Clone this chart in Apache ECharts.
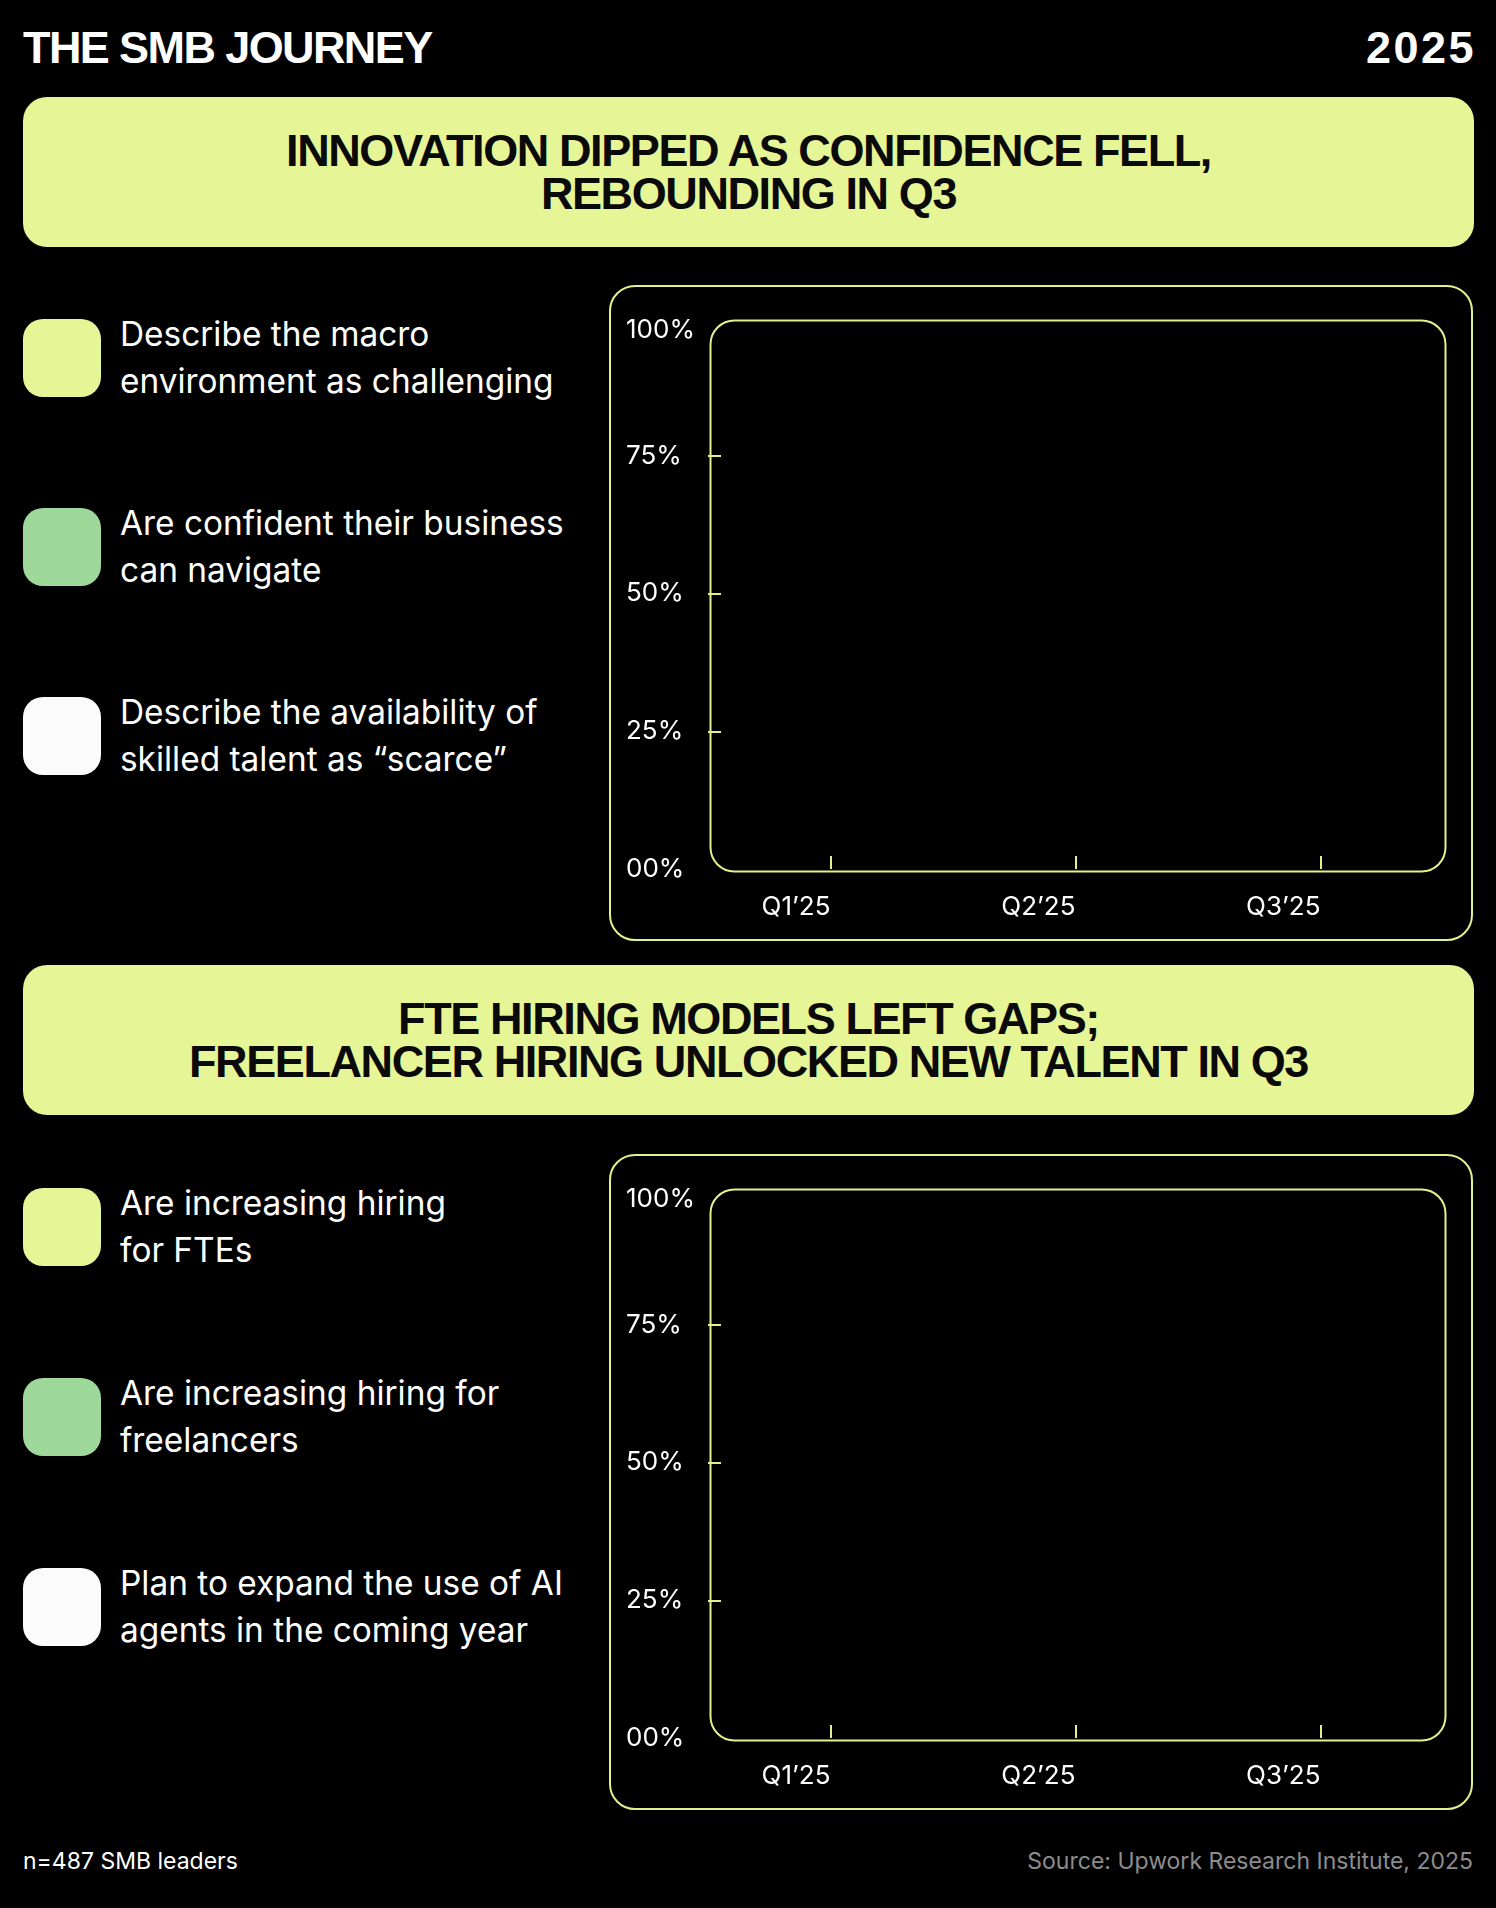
<!DOCTYPE html>
<html>
<head>
<meta charset="utf-8">
<title>The SMB Journey 2025</title>
<script src="https://cdn.jsdelivr.net/npm/echarts@6/dist/echarts.min.js"></script>
<style>
  html, body { margin: 0; padding: 0; background: #000; }
  body { width: 1496px; height: 1908px; position: relative; overflow: hidden; color: #fff; font-family: Inter, "Liberation Sans", sans-serif; }
  .abs { position: absolute; }
  .title { top: 25px; height: 45px; line-height: 45px; font-family: "Liberation Sans", Arial, sans-serif; font-weight: 700; font-size: 45px; letter-spacing: -1.6px; }
  .banner { left: 23px; width: 1451px; height: 150px; background: #e6f596; border-radius: 24px;
            display: flex; align-items: center; justify-content: center; text-align: center;
            font-family: "Liberation Sans", Arial, sans-serif; font-weight: 700; font-size: 45px; line-height: 43.5px;
            letter-spacing: -1.4px; color: #0a0a0a; }
  .swatch { left: 23px; width: 78px; height: 78px; border-radius: 20px; }
  .label { left: 120px; font-size: 33.4px; line-height: 47px; width: 480px; }
  .panel { left: 609px; width: 864px; height: 656px; box-sizing: border-box; border: 2px solid #e3f08b; border-radius: 26px; }
  .chart { position: absolute; left: 0; top: 0; right: 0; bottom: 0; }
  .foot { top: 1847px; height: 28px; line-height: 28px; font-size: 23px; }
</style>
</head>
<body>
  <div class="abs title" style="left:23px">THE SMB JOURNEY</div>
  <div class="abs title" style="right:20px;letter-spacing:2.5px">2025</div>

  <div class="abs banner" style="top:97px">INNOVATION DIPPED AS CONFIDENCE FELL,<br>REBOUNDING IN Q3</div>
  <div class="abs swatch" style="top:319px;background:#e6f596"></div>
  <div class="abs label" style="top:311px">Describe the macro<br>environment as challenging</div>
  <div class="abs swatch" style="top:508px;background:#9fd89b"></div>
  <div class="abs label" style="top:500px">Are confident their business<br>can navigate</div>
  <div class="abs swatch" style="top:697px;background:#fbfbfb"></div>
  <div class="abs label" style="top:689px">Describe the availability of<br>skilled talent as “scarce”</div>
  <div class="abs panel" style="top:285px"><div id="chartTop" class="chart"></div></div>

  <div class="abs banner" style="top:965px">FTE HIRING MODELS LEFT GAPS;<br>FREELANCER HIRING UNLOCKED NEW TALENT IN Q3</div>
  <div class="abs swatch" style="top:1188px;background:#e6f596"></div>
  <div class="abs label" style="top:1180px">Are increasing hiring<br>for FTEs</div>
  <div class="abs swatch" style="top:1378px;background:#9fd89b"></div>
  <div class="abs label" style="top:1370px">Are increasing hiring for<br>freelancers</div>
  <div class="abs swatch" style="top:1568px;background:#fbfbfb"></div>
  <div class="abs label" style="top:1560px">Plan to expand the use of AI<br>agents in the coming year</div>
  <div class="abs panel" style="top:1154px"><div id="chartBottom" class="chart"></div></div>

  <div class="abs foot" style="left:23px">n=487 SMB leaders</div>
  <div class="abs foot" style="right:23px;color:#8c8c8c">Source: Upwork Research Institute, 2025</div>

<script>
// categories and axis ticks
const quarters = ["Q1’25", "Q2’25", "Q3’25"];
const yTickValues = [0, 25, 50, 75, 100];
const yTickLabels = ["00%", "25%", "50%", "75%", "100%"];

// series values - the reference frame shows no drawn lines yet, so these stay empty
const macroChallenging = [];
const confidentNavigate = [];
const talentScarce = [];
const hiringFTEs = [];
const hiringFreelancers = [];
const expandAIAgents = [];

const lime = "#e3f08b";
const plot = { left: 97, top: 31, width: 735, height: 551 };

function buildOption(series) {
  return {
    animation: false,
    backgroundColor: "transparent",
    grid: { left: plot.left, top: plot.top, width: plot.width, height: plot.height },
    // rounded frame around the plot area
    graphic: [{
      type: "rect",
      left: plot.left, top: plot.top,
      shape: { width: plot.width, height: plot.height, r: 24 },
      style: { fill: "none", stroke: lime, lineWidth: 2 },
      silent: true
    }],
    xAxis: {
      type: "category",
      data: quarters,
      boundaryGap: true,
      axisLine: { show: false },
      axisTick: { show: true, alignWithLabel: true, inside: true, length: 13, lineStyle: { color: lime, width: 2 } },
      axisLabel: { color: "#fff", fontFamily: "Inter", fontSize: 26, align: "right", margin: 25 },
      splitLine: { show: false }
    },
    yAxis: {
      type: "value",
      min: 0, max: 100, interval: 25,
      axisLine: { show: false },
      axisTick: { show: true, inside: true, length: 13, customValues: [25, 50, 75], lineStyle: { color: lime, width: 2 } },
      axisLabel: {
        color: "#fff", fontFamily: "Inter", fontSize: 26, align: "left", margin: 82,
        formatter: v => {
          const txt = yTickLabels[yTickValues.indexOf(v)];
          return v === 100 ? "{top|" + txt + "}" : txt;
        },
        rich: { top: { color: "#fff", fontFamily: "Inter", fontSize: 26, padding: [24, 0, 0, 0] } }
      },
      splitLine: { show: false }
    },
    series: series.map(s => ({
      type: "line",
      name: s.name,
      data: s.data,
      smooth: true,
      symbol: "none",
      lineStyle: { color: s.color, width: 4 }
    }))
  };
}

const topChart = echarts.init(document.getElementById("chartTop"));
topChart.setOption(buildOption([
  { name: "Describe the macro environment as challenging", data: macroChallenging, color: "#e6f596" },
  { name: "Are confident their business can navigate", data: confidentNavigate, color: "#9fd89b" },
  { name: "Describe the availability of skilled talent as scarce", data: talentScarce, color: "#fbfbfb" }
]));

const bottomChart = echarts.init(document.getElementById("chartBottom"));
bottomChart.setOption(buildOption([
  { name: "Are increasing hiring for FTEs", data: hiringFTEs, color: "#e6f596" },
  { name: "Are increasing hiring for freelancers", data: hiringFreelancers, color: "#9fd89b" },
  { name: "Plan to expand the use of AI agents in the coming year", data: expandAIAgents, color: "#fbfbfb" }
]));
</script>
</body>
</html>
